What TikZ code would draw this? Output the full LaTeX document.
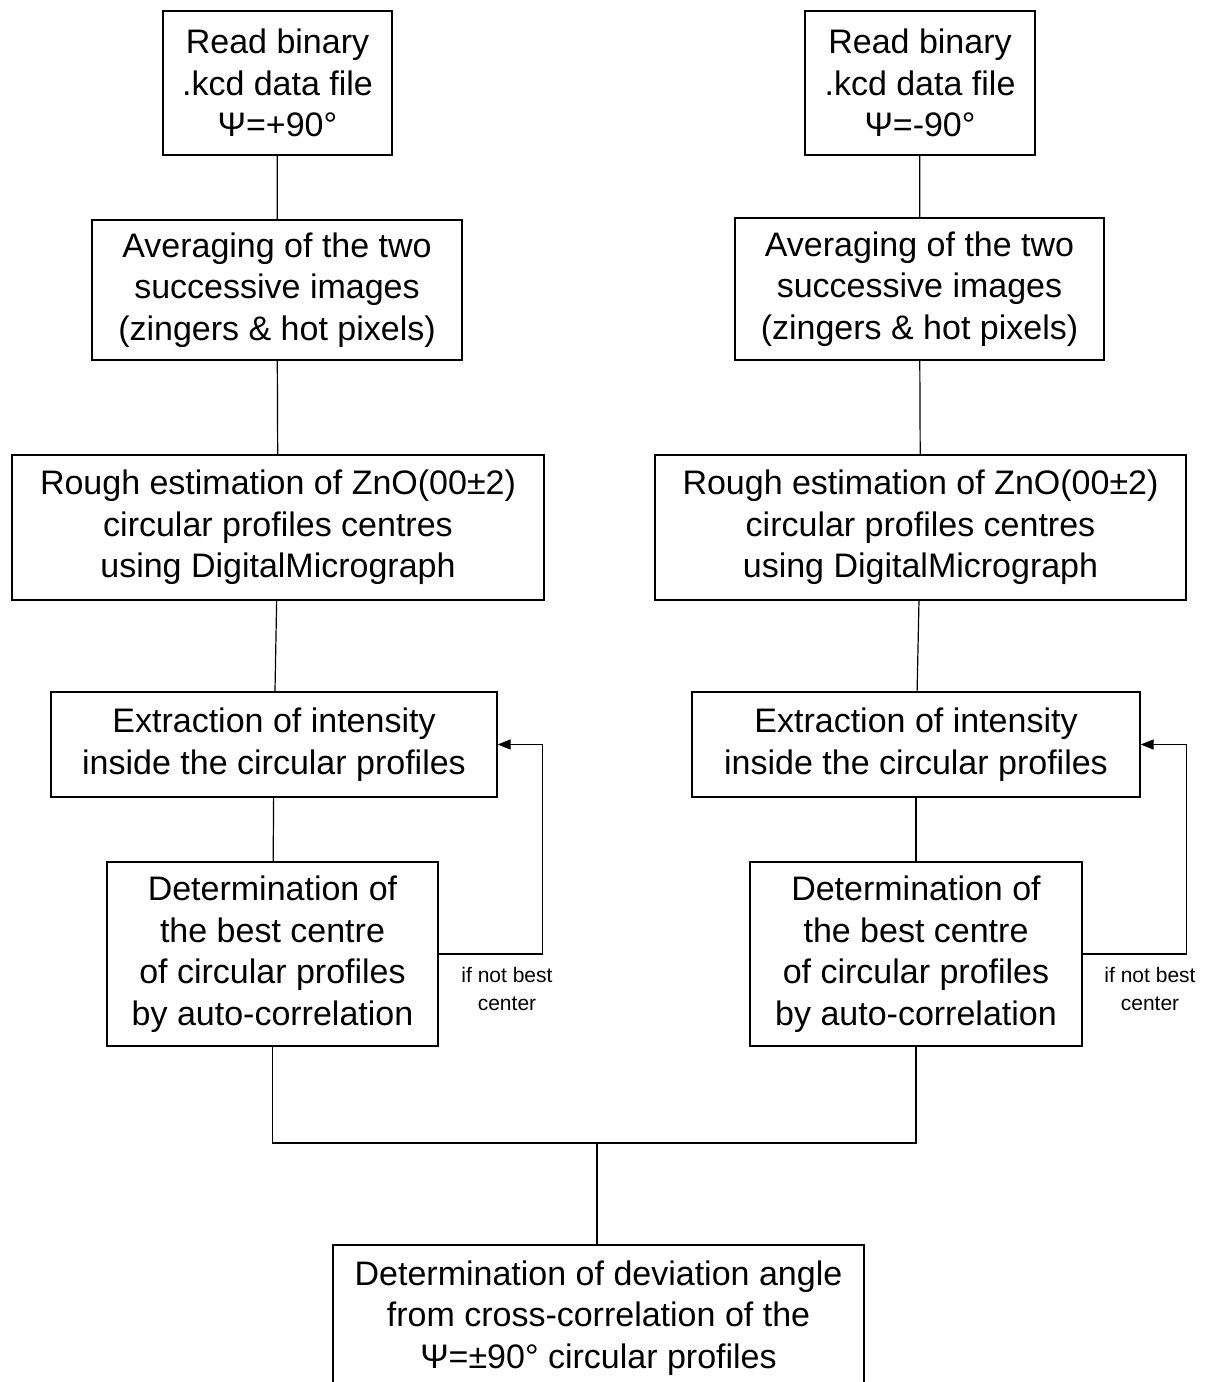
\documentclass[tikz,border=0pt]{standalone}
\usepackage{fontspec}
\setmainfont{Liberation Sans}
\usetikzlibrary{arrows.meta}
\tikzset{
  box/.style={draw, line width=1.2pt, align=center, inner sep=0pt, font=\fontsize{34}{41.5}\selectfont},
  link/.style={draw, line width=1.2pt},
  arrow/.style={link, -{Triangle[length=13pt, width=10pt]}},
  tag/.style={font=\fontsize{21}{28}\selectfont, align=center},
}
\begin{document}
\begin{tikzpicture}[x=1pt, y=-1pt]
\clip (0,0) rectangle (1209,1382);
% --- left column: psi = +90
\node[box, minimum width=229pt, minimum height=144pt] (readL) at (277.5,83) {Read binary\\.kcd data file\\Ψ=+90°};
\node[box, minimum width=370pt, minimum height=140pt] (avgL) at (277,290) {Averaging of the two\\successive images\\(zingers \& hot pixels)};
\node[box, minimum width=532pt, minimum height=145pt] (roughL) at (278,527.5) {Rough estimation of ZnO(00±2)\\circular profiles centres\\using DigitalMicrograph};
\node[box, minimum width=446pt, minimum height=105pt] (extrL) at (274,744.5) {Extraction of intensity\\inside the circular profiles};
\node[box, minimum width=331pt, minimum height=184pt] (bestL) at (272.5,954) {Determination of\\the best centre\\of circular profiles\\by auto-correlation};
% --- right column: psi = -90
\node[box, minimum width=230pt, minimum height=144pt] (readR) at (920,83) {Read binary\\.kcd data file\\Ψ=-90°};
\node[box, minimum width=369pt, minimum height=142pt] (avgR) at (919.5,289) {Averaging of the two\\successive images\\(zingers \& hot pixels)};
\node[box, minimum width=531pt, minimum height=145pt] (roughR) at (920.5,527.5) {Rough estimation of ZnO(00±2)\\circular profiles centres\\using DigitalMicrograph};
\node[box, minimum width=448pt, minimum height=105pt] (extrR) at (916,744.5) {Extraction of intensity\\inside the circular profiles};
\node[box, minimum width=332pt, minimum height=184pt] (bestR) at (916,954) {Determination of\\the best centre\\of circular profiles\\by auto-correlation};
% --- final step (runs off the bottom edge)
\node[box, minimum width=531pt, minimum height=146pt] (dev) at (598.5,1318) {Determination of deviation angle\\from cross-correlation of the\\Ψ=±90° circular profiles};
\foreach \s in {L, R} {
  \draw[link] (read\s) -- (avg\s);
  \draw[link] (avg\s) -- (rough\s);
  \draw[link] (rough\s) -- (extr\s);
  \draw[link] (extr\s) -- (best\s);
  \draw[arrow] (best\s.east) -- ++(104,0) |- (extr\s.east);
}
\node[tag] (retryL) at (507,989) {if not best\\center};
\node[tag] (retryR) at (1150,989) {if not best\\center};
% --- merge
\coordinate (join) at (597,1143);
\draw[link] (bestL.south) |- (join) -| (bestR.south);
\draw[link] (join) -- (join |- dev.north);
\end{tikzpicture}
\end{document}
